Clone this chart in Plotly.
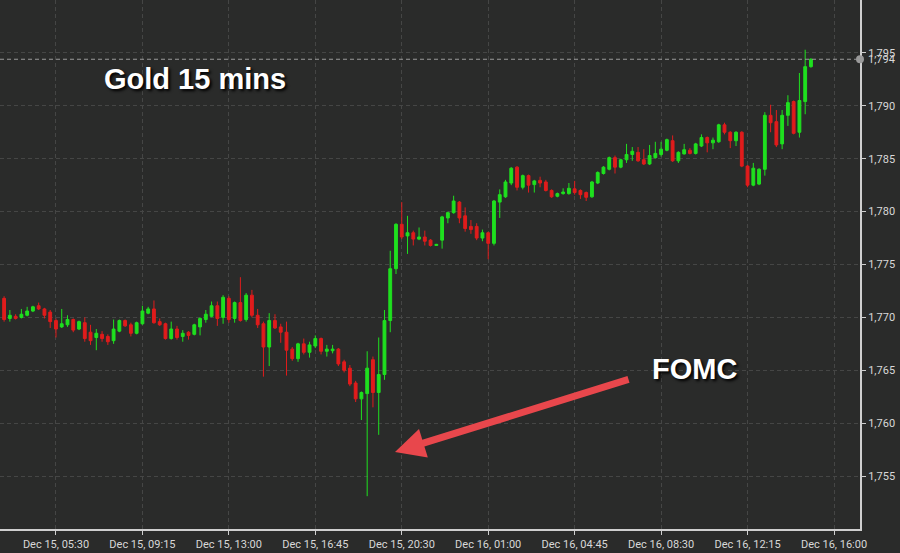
'''
    Gold 15 min candlestick chart around the December 2021 FOMC decision.
'''
import pandas as pd
import plotly.graph_objects as go

# 15 min bars, two sessions (daily break after 22:00)
session_1 = pd.date_range("2021-12-15 03:15", "2021-12-15 22:00", freq="15min")
session_2 = pd.date_range("2021-12-15 23:00", "2021-12-16 15:00", freq="15min")
times = list(session_1) + list(session_2)

opens = [
    1771.8, 1769.9, 1770.1, 1770.0, 1770.2, 1770.6, 1771.1, 1770.8, 1770.5, 1769.7,
    1769.1, 1769.3, 1769.8, 1768.9, 1769.5, 1768.6, 1768.1, 1768.4, 1768.2, 1767.8,
    1768.7, 1769.7, 1769.3, 1768.5, 1769.4, 1770.4, 1770.8, 1769.6, 1769.4, 1768.0,
    1768.9, 1768.2, 1768.6, 1768.4, 1769.1, 1769.8, 1770.1, 1771.1, 1770.0, 1771.8,
    1769.9, 1771.4, 1769.8, 1772.1, 1770.2, 1769.4, 1767.2, 1769.7, 1769.1, 1768.6,
    1767.0, 1766.1, 1767.5, 1766.7, 1767.3, 1768.0, 1766.8, 1766.85, 1767.0, 1765.8,
    1765.2, 1763.8, 1762.3, 1762.8, 1766.0, 1762.9, 1764.6, 1769.7, 1774.6, 1778.8,
    1777.7, 1778.0, 1777.4, 1777.6, 1777.3, 1776.8, 1777.3, 1779.4, 1779.9, 1780.9,
    1779.6, 1778.6, 1778.6, 1777.5, 1778.0, 1777.0, 1780.9, 1781.4, 1782.7, 1784.2,
    1782.3, 1783.4, 1782.55, 1782.95, 1782.8, 1782.0, 1781.45, 1781.7, 1781.7, 1782.15,
    1782.0, 1781.8, 1781.4, 1782.7, 1783.6, 1784.0, 1785.1, 1784.2, 1784.9, 1785.4,
    1785.6, 1784.9, 1784.5, 1785.1, 1785.4, 1785.8, 1786.7, 1784.8, 1785.45, 1785.8,
    1785.5, 1786.2, 1787.0, 1786.5, 1786.6, 1788.2, 1787.5, 1786.7, 1787.5, 1784.3,
    1782.5, 1782.6, 1784.0, 1789.1, 1788.5, 1786.4, 1789.1, 1790.4, 1787.5, 1790.4,
    1793.7,
]
highs = [
    1772.0, 1770.7, 1770.3, 1770.8, 1771.0, 1771.1, 1771.4, 1770.9, 1770.7, 1769.9,
    1770.8, 1770.2, 1769.9, 1769.7, 1770.0, 1769.3, 1768.9, 1768.7, 1768.4, 1769.8,
    1769.8, 1769.8, 1769.5, 1769.6, 1771.1, 1771.0, 1771.6, 1769.9, 1769.5, 1769.6,
    1769.2, 1768.8, 1768.7, 1769.4, 1770.0, 1770.7, 1771.5, 1771.5, 1772.1, 1772.0,
    1771.5, 1773.8, 1772.3, 1772.6, 1770.8, 1769.6, 1770.4, 1770.3, 1769.4, 1769.6,
    1767.2, 1767.6, 1768.0, 1767.7, 1768.3, 1768.1, 1767.4, 1767.4, 1767.1, 1766.0,
    1765.5, 1764.0, 1763.0, 1766.8, 1766.3, 1768.1, 1770.7, 1776.3, 1778.9, 1780.9,
    1779.6, 1778.2, 1778.5, 1778.2, 1777.4, 1776.95, 1779.6, 1780.0, 1781.5, 1781.0,
    1780.4, 1779.2, 1778.9, 1778.3, 1778.1, 1781.1, 1782.1, 1783.0, 1784.2, 1784.3,
    1783.5, 1783.5, 1783.0, 1783.3, 1783.0, 1782.1, 1781.8, 1782.2, 1782.7, 1782.9,
    1782.1, 1781.9, 1782.9, 1783.8, 1784.3, 1785.2, 1785.3, 1785.0, 1786.4, 1786.1,
    1786.1, 1785.9, 1786.3, 1786.6, 1786.6, 1786.9, 1787.2, 1785.7, 1786.4, 1786.0,
    1786.5, 1787.3, 1787.1, 1787.0, 1788.3, 1788.4, 1787.6, 1787.6, 1787.6, 1784.4,
    1784.6, 1784.1, 1789.4, 1790.1, 1789.6, 1789.6, 1791.0, 1790.5, 1793.1, 1795.3,
    1794.5,
]
lows = [
    1769.6, 1769.6, 1769.8, 1769.9, 1770.1, 1770.5, 1770.7, 1769.9, 1769.0, 1768.1,
    1769.0, 1769.1, 1768.6, 1768.8, 1767.7, 1767.4, 1766.9, 1767.7, 1767.4, 1767.5,
    1768.6, 1769.1, 1768.2, 1768.4, 1769.3, 1770.3, 1769.4, 1769.2, 1767.9, 1767.9,
    1767.9, 1767.7, 1767.9, 1768.3, 1768.3, 1769.5, 1770.0, 1769.2, 1769.4, 1769.5,
    1769.5, 1769.6, 1769.6, 1770.0, 1769.0, 1764.4, 1765.4, 1768.9, 1767.6, 1764.5,
    1765.9, 1765.8, 1766.5, 1766.2, 1767.1, 1766.5, 1766.3, 1766.6, 1765.4, 1764.8,
    1763.5, 1762.0, 1760.3, 1753.1, 1761.5, 1758.9, 1764.1, 1768.6, 1774.1, 1777.4,
    1776.0, 1776.8, 1777.3, 1776.8, 1776.7, 1776.75, 1776.5, 1778.9, 1779.8, 1778.9,
    1778.1, 1777.9, 1777.3, 1777.2, 1775.5, 1776.8, 1779.4, 1781.3, 1782.5, 1782.0,
    1782.1, 1781.8, 1781.8, 1782.3, 1781.9, 1781.3, 1781.35, 1781.6, 1781.6, 1781.6,
    1781.2, 1781.0, 1781.3, 1782.6, 1783.5, 1783.9, 1783.6, 1784.1, 1784.6, 1784.8,
    1784.7, 1784.4, 1784.4, 1785.0, 1785.2, 1785.7, 1784.7, 1784.6, 1785.4, 1785.4,
    1785.4, 1786.1, 1785.6, 1785.9, 1786.5, 1787.3, 1786.0, 1786.2, 1784.2, 1782.3,
    1782.4, 1782.5, 1783.4, 1787.5, 1786.1, 1785.9, 1788.1, 1787.3, 1787.0, 1789.2,
    1793.6,
]
closes = [
    1769.8, 1770.2, 1769.9, 1770.3, 1770.6, 1771.0, 1770.8, 1770.2, 1769.6, 1768.9,
    1769.4, 1769.8, 1768.8, 1769.6, 1768.0, 1767.8, 1768.5, 1768.0, 1767.7, 1768.9,
    1769.7, 1769.2, 1768.5, 1769.5, 1770.6, 1770.8, 1769.5, 1769.3, 1768.0, 1768.9,
    1768.1, 1768.5, 1768.3, 1769.3, 1769.9, 1770.3, 1771.1, 1769.9, 1771.9, 1769.8,
    1771.4, 1769.7, 1772.1, 1770.2, 1769.3, 1767.2, 1769.7, 1769.0, 1768.6, 1766.9,
    1766.1, 1767.5, 1766.7, 1767.4, 1768.0, 1766.8, 1767.0, 1767.0, 1765.6, 1765.0,
    1763.7, 1762.3, 1762.9, 1765.2, 1762.9, 1764.6, 1769.7, 1774.6, 1778.8, 1777.6,
    1778.0, 1777.4, 1777.6, 1777.2, 1776.8, 1776.9, 1779.5, 1779.9, 1781.0, 1779.4,
    1778.4, 1778.3, 1777.5, 1778.0, 1777.0, 1781.0, 1781.6, 1782.8, 1784.1, 1782.3,
    1783.4, 1782.5, 1782.9, 1782.7, 1782.0, 1781.4, 1781.7, 1781.85, 1782.2, 1781.8,
    1781.6, 1781.35, 1782.8, 1783.7, 1784.2, 1785.1, 1784.2, 1784.9, 1785.4, 1785.7,
    1784.8, 1784.5, 1785.3, 1785.5, 1785.9, 1786.8, 1784.8, 1785.6, 1785.85, 1785.5,
    1786.4, 1787.0, 1786.5, 1786.75, 1788.2, 1787.5, 1786.7, 1787.5, 1784.3, 1782.5,
    1784.1, 1784.0, 1789.1, 1788.4, 1786.3, 1789.1, 1790.3, 1787.4, 1790.5, 1793.7,
    1794.4,
]

tick_times = [
    "2021-12-15 05:30", "2021-12-15 09:15", "2021-12-15 13:00", "2021-12-15 16:45",
    "2021-12-15 20:30", "2021-12-16 01:00", "2021-12-16 04:45", "2021-12-16 08:30",
    "2021-12-16 12:15", "2021-12-16 16:00",
]
tick_labels = [
    "Dec 15, 05:30", "Dec 15, 09:15", "Dec 15, 13:00", "Dec 15, 16:45",
    "Dec 15, 20:30", "Dec 16, 01:00", "Dec 16, 04:45", "Dec 16, 08:30",
    "Dec 16, 12:15", "Dec 16, 16:00",
]
price_ticks = [1755, 1760, 1765, 1770, 1775, 1780, 1785, 1790, 1795]
last_price = closes[-1]

BG = "#2a2b2a"
GRID = "#454645"
AXIS_FONT = dict(family="Liberation Sans Narrow, Arial Narrow, Roboto, sans-serif",
                 size=11, color="#d8d8d8")

fig = go.Figure(go.Candlestick(
    x=times, open=opens, high=highs, low=lows, close=closes,
    increasing=dict(line=dict(color="#1fe01f", width=1), fillcolor="#1fe01f"),
    decreasing=dict(line=dict(color="#e01c1c", width=1), fillcolor="#e01c1c"),
    whiskerwidth=0,
    showlegend=False,
))

fig.update_layout(
    width=900, height=553,
    margin=dict(l=0, r=40, t=0, b=24, autoexpand=False),
    paper_bgcolor=BG, plot_bgcolor=BG,
    dragmode=False,
)

fig.update_xaxes(
    range=["2021-12-15 03:04:20", "2021-12-16 17:07:40"],
    rangebreaks=[dict(bounds=["2021-12-15 22:15", "2021-12-15 23:00"])],
    rangeslider_visible=False,
    tickvals=tick_times, ticktext=tick_labels,
    tickfont=AXIS_FONT,
    ticks="outside", ticklen=4, tickcolor="#cfcfcf",
    showline=True, linecolor="#cfcfcf", linewidth=2,
    showgrid=True, gridcolor=GRID, griddash="4px,3px", gridwidth=1,
)
fig.update_yaxes(
    side="right", range=[1750, 1800],
    tickvals=price_ticks, tickformat=",d",
    tickfont=AXIS_FONT,
    ticks="outside", ticklen=4, tickcolor="#cfcfcf",
    showline=True, linecolor="#cfcfcf", linewidth=2,
    showgrid=True, gridcolor=GRID, griddash="4px,3px", gridwidth=1,
    zeroline=False,
)

# last price line with marker and label on the axis
fig.add_shape(type="line", xref="paper", x0=0, x1=1, yref="y",
              y0=last_price, y1=last_price,
              line=dict(color="#9a9a9a", width=1.2, dash="4px,3px"))
fig.add_shape(type="circle", xref="paper", xsizemode="pixel", xanchor=1,
              x0=-4, x1=4, yref="y", ysizemode="pixel", yanchor=last_price,
              y0=-4, y1=4, fillcolor="#9a9a9a", line_width=0)
fig.add_annotation(xref="paper", x=1, xanchor="left", xshift=6,
                   yref="y", y=last_price, yanchor="middle",
                   text=f"{last_price:,.0f}", showarrow=False, font=AXIS_FONT)

title_font = dict(family="Liberation Sans, Arial, sans-serif", size=29,
                  color="white", weight="bold", shadow="2px 2px 3px #000")
fig.add_annotation(xref="paper", x=102 / 860, xanchor="left",
                   yref="paper", y=1 - 79 / 529, yanchor="middle",
                   text="Gold 15 mins", showarrow=False, font=title_font)
fig.add_annotation(xref="paper", x=650 / 860, xanchor="left",
                   yref="paper", y=1 - 369 / 529, yanchor="middle",
                   text="FOMC", showarrow=False, font=title_font)

# arrow pointing at the FOMC candle
fig.add_annotation(xref="paper", x=395 / 860, yref="paper", y=1 - 452 / 529,
                   ax=235, ay=-73, text="", showarrow=True,
                   arrowhead=2, arrowsize=0.85, arrowwidth=7,
                   arrowcolor="#e8474c", standoff=0)

# page body has a default margin, drop it so the 900x553 figure fits the window
fig.write_html("out.html", config={"displayModeBar": False},
               post_script="document.body.style.margin='0';")
